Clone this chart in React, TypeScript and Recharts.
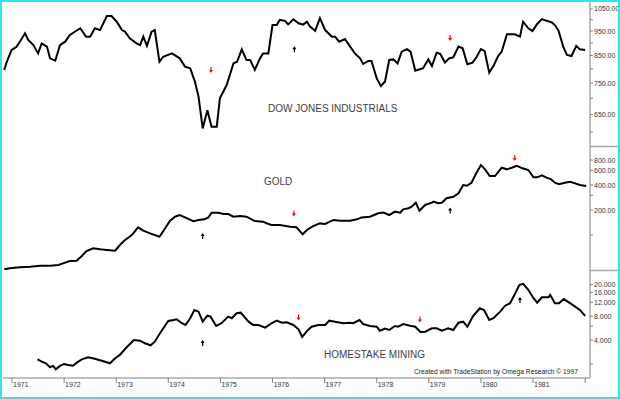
import React from 'react';
import { LineChart, Line, XAxis, YAxis, ReferenceDot } from 'recharts';

// decimal years + values (log panels)
const dowYears = [
  1970.85, 1970.9, 1970.99, 1971.09, 1971.15, 1971.25, 1971.31, 1971.41, 1971.5, 1971.57, 1971.67, 1971.73,
  1971.83, 1971.92, 1972.02, 1972.11, 1972.31, 1972.42, 1972.5, 1972.59, 1972.69, 1972.82, 1972.91, 1973.01,
  1973.11, 1973.17, 1973.26, 1973.39, 1973.46, 1973.52, 1973.59, 1973.68, 1973.74, 1973.83, 1973.9, 1974.07,
  1974.22, 1974.32, 1974.42, 1974.51, 1974.58, 1974.66, 1974.75, 1974.83, 1974.93, 1974.99, 1975.12, 1975.25,
  1975.32, 1975.41, 1975.5, 1975.57, 1975.66, 1975.76, 1975.82, 1975.92, 1976.0, 1976.08, 1976.14, 1976.24,
  1976.3, 1976.4, 1976.5, 1976.59, 1976.66, 1976.72, 1976.82, 1976.91, 1977.01, 1977.14, 1977.2, 1977.28,
  1977.39, 1977.49, 1977.58, 1977.68, 1977.74, 1977.84, 1977.9, 1978.0, 1978.08, 1978.16, 1978.24, 1978.32,
  1978.4, 1978.48, 1978.58, 1978.65, 1978.74, 1978.89, 1978.99, 1979.06, 1979.15, 1979.22, 1979.31, 1979.39,
  1979.47, 1979.57, 1979.65, 1979.74, 1979.84, 1979.92, 1980.0, 1980.07, 1980.16, 1980.25, 1980.33, 1980.4,
  1980.5, 1980.65, 1980.75, 1980.81, 1980.91, 1980.99, 1981.08, 1981.17, 1981.26, 1981.36, 1981.42, 1981.49,
  1981.58, 1981.65, 1981.74, 1981.83, 1981.9, 1982.0,
];
const dowValues = [
  796, 826, 871, 885, 905, 940, 912, 891, 858, 898, 885, 839,
  830, 891, 905, 933, 962, 926, 926, 962, 954, 1017, 1017, 991,
  954, 947, 919, 898, 891, 926, 888, 947, 954, 826, 845, 858,
  839, 808, 802, 755, 705, 610, 663, 615, 615, 700, 743, 820,
  826, 874, 833, 833, 796, 839, 858, 858, 976, 976, 999, 995,
  979, 1002, 984, 978, 991, 969, 951, 1007, 954, 926, 926, 905,
  916, 885, 858, 839, 818, 829, 829, 766, 740, 755, 833, 835,
  820, 865, 875, 865, 793, 802, 835, 810, 861, 856, 823, 839,
  843, 885, 878, 817, 823, 845, 875, 868, 786, 814, 848, 865,
  936, 936, 926, 991, 962, 950, 981, 1003, 995, 988, 976, 951,
  885, 852, 848, 888, 874, 871,
];

const goldYears = [
  1970.85, 1970.96, 1971.15, 1971.35, 1971.54, 1971.73, 1971.89, 1971.98, 1972.11, 1972.24, 1972.34, 1972.43,
  1972.56, 1972.69, 1972.82, 1972.98, 1973.07, 1973.17, 1973.3, 1973.42, 1973.52, 1973.65, 1973.83, 1973.94,
  1974.03, 1974.13, 1974.22, 1974.32, 1974.48, 1974.58, 1974.69, 1974.77, 1974.83, 1974.96, 1975.06, 1975.15,
  1975.25, 1975.38, 1975.5, 1975.66, 1975.82, 1975.89, 1975.98, 1976.14, 1976.34, 1976.46, 1976.58, 1976.66,
  1976.78, 1976.91, 1977.01, 1977.17, 1977.3, 1977.49, 1977.62, 1977.71, 1977.87, 1978.03, 1978.13, 1978.24,
  1978.35, 1978.45, 1978.51, 1978.61, 1978.67, 1978.75, 1978.82, 1978.93, 1979.06, 1979.09, 1979.18, 1979.25,
  1979.34, 1979.47, 1979.57, 1979.66, 1979.73, 1979.82, 1979.91, 1980.0, 1980.08, 1980.17, 1980.27, 1980.4,
  1980.5, 1980.59, 1980.69, 1980.8, 1980.91, 1981.01, 1981.08, 1981.17, 1981.26, 1981.34, 1981.42, 1981.5,
  1981.61, 1981.71, 1981.81, 1981.9, 1982.02,
];
const goldValues = [
  38.6, 39.8, 40.8, 41.5, 42.7, 42.7, 43.5, 45.6, 48.6, 49, 55.9, 64.2,
  69.2, 67.3, 66, 64.7, 75.8, 87.1, 100, 123.8, 112.7, 104.8, 95.4, 120.4,
  147.4, 166, 174, 163, 147, 151.6, 154.5, 163, 185.6, 185.6, 179, 179,
  166, 169, 166, 147, 144.6, 138, 132, 132, 126, 124, 102, 115,
  128, 138, 136, 152, 149, 149, 154.5, 163, 166, 183, 186, 174,
  191, 186, 204, 210, 219, 245, 196, 230, 245, 252, 241, 245,
  277, 289, 318, 400, 392, 426, 553, 696, 618, 513, 513, 646,
  618, 646, 683, 636, 606, 495, 495, 524, 490, 472, 426, 408,
  426, 438, 419, 400, 389,
];

const hmYears = [
  1971.49, 1971.57, 1971.65, 1971.73, 1971.79, 1971.84, 1971.92, 1972.0, 1972.08, 1972.17, 1972.25, 1972.34,
  1972.46, 1972.59, 1972.72, 1972.88, 1972.98, 1973.07, 1973.2, 1973.34, 1973.46, 1973.55, 1973.66, 1973.74,
  1973.84, 1974.0, 1974.1, 1974.16, 1974.26, 1974.33, 1974.42, 1974.5, 1974.58, 1974.66, 1974.75, 1974.81,
  1974.92, 1975.02, 1975.15, 1975.22, 1975.31, 1975.39, 1975.54, 1975.63, 1975.73, 1975.86, 1975.98, 1976.08,
  1976.18, 1976.27, 1976.4, 1976.5, 1976.57, 1976.66, 1976.75, 1976.88, 1977.01, 1977.09, 1977.2, 1977.36,
  1977.49, 1977.55, 1977.67, 1977.74, 1977.87, 1978.0, 1978.06, 1978.16, 1978.24, 1978.35, 1978.41, 1978.51,
  1978.64, 1978.74, 1978.84, 1978.93, 1979.06, 1979.15, 1979.25, 1979.37, 1979.47, 1979.57, 1979.66, 1979.74,
  1979.85, 1979.98, 1980.06, 1980.16, 1980.24, 1980.37, 1980.46, 1980.56, 1980.65, 1980.74, 1980.81, 1980.91,
  1981.01, 1981.08, 1981.17, 1981.3, 1981.33, 1981.42, 1981.5, 1981.59, 1981.71, 1981.81, 1981.9, 1982.0,
];
const hmValues = [
  2.29, 2.14, 2.04, 1.82, 1.89, 1.71, 1.89, 2.0, 1.94, 1.9, 2.1, 2.29,
  2.43, 2.33, 2.2, 2.04, 2.36, 2.6, 3.25, 4.02, 3.94, 3.65, 3.44, 3.82,
  4.88, 6.98, 7.18, 7.33, 6.53, 6.21, 7.55, 9.61, 9.14, 6.84, 8.14, 7.91,
  6.03, 6.53, 7.91, 7.55, 8.73, 8.88, 6.84, 6.21, 6.21, 5.74, 6.53, 7.04,
  6.64, 6.72, 6.21, 5.48, 4.38, 5.2, 5.91, 6.21, 6.21, 7.04, 6.84, 6.53,
  6.64, 6.53, 7.18, 6.39, 6.03, 5.91, 5.26, 5.58, 5.37, 6.03, 5.91, 6.39,
  6.09, 5.91, 5.07, 5.11, 5.64, 5.64, 5.26, 5.64, 5.37, 6.64, 6.84, 5.91,
  8.07, 10.1, 9.61, 7.18, 7.55, 9.14, 10.8, 11.7, 15.2, 19.9, 20.5, 17.2,
  13.5, 11.9, 13.9, 13.9, 14.9, 11.7, 11.7, 13.2, 11.7, 10.6, 9.61, 8.07,
];

const dowTicks = [600, 650, 700, 750, 800, 850, 900, 950, 1000, 1050];
const dowLabels = [650, 750, 850, 950, 1050];
const goldTicks = [100, 200, 300, 400, 600, 800];
const goldLabels = [200, 400, 600, 800];
const hmTicks = [2, 4, 6, 8, 12, 16, 20];
const hmLabels = [4, 8, 12, 16, 20];
const yearTicks = [1971, 1972, 1973, 1974, 1975, 1976, 1977, 1978, 1979, 1980, 1981, 1982];
const yearLabels = ['1971', '1972', '1973', '1974', '1975', '1976', '1977', '1978', '1979', '1980', '1981'];

// signal arrows: year, value, direction
const dowArrows: [number, number, 'up' | 'down'][] = [
  [1974.82, 796, 'down'],
  [1976.42, 874, 'up'],
  [1979.41, 920, 'down'],
];
const goldArrows: [number, number, 'up' | 'down'][] = [
  [1974.66, 97, 'up'],
  [1976.41, 182, 'down'],
  [1979.41, 197, 'up'],
  [1980.65, 845, 'down'],
];
const hmArrows: [number, number, 'up' | 'down'][] = [
  [1974.66, 3.68, 'up'],
  [1976.5, 7.73, 'down'],
  [1978.83, 7.29, 'down'],
  [1980.75, 12.8, 'up'],
];

const FONT = '"Liberation Sans", Arial, sans-serif';
const X_DOMAIN: [number, number] = [1970.827, 1982.094];

const zip = (ts: number[], vs: number[]) => ts.map((t, i) => ({ t, v: vs[i] }));

const Arrow = ({ cx, cy, dir }: { cx: number; cy: number; dir: 'up' | 'down' }) => {
  const color = dir === 'down' ? '#ff0000' : '#000000';
  const s = dir === 'down' ? 1 : -1;
  return (
    <g>
      <line x1={cx} y1={cy - 3 * s} x2={cx} y2={cy + 1 * s} stroke={color} strokeWidth={1.2} />
      <path d={`M${cx - 2},${cy} L${cx + 2},${cy} L${cx},${cy + 3 * s} Z`} fill={color} />
    </g>
  );
};

const makeYTick = (labels: number[], digits: number) => (props: any) => {
  const { x, y, payload } = props;
  if (!labels.includes(payload.value)) return <g />;
  return (
    <text x={x} y={y} dy={2.5} fontSize={7} fill="#333" fontFamily={FONT}>
      {payload.value.toFixed(digits)}
    </text>
  );
};

const renderXTick = (props: any) => {
  const { x, y, payload } = props;
  const label = yearLabels[yearTicks.indexOf(payload.value)];
  if (!label) return <g />;
  return (
    <text x={x + 1} y={y + 4} fontSize={7} fill="#333" fontFamily={FONT}>
      {label}
    </text>
  );
};

type PanelProps = {
  top: number;
  height: number;
  data: { t: number; v: number }[];
  domain: [number, number];
  ticks: number[];
  labels: number[];
  digits: number;
  arrows: [number, number, 'up' | 'down'][];
  showX?: boolean;
};

const Panel = ({ top, height, data, domain, ticks, labels, digits, arrows, showX }: PanelProps) => (
  <div style={{ position: 'absolute', left: 0, top }}>
    <LineChart width={620} height={height} data={data} margin={{ top: 0, right: 0, bottom: 0, left: 3 }}>
      <XAxis
        dataKey="t"
        type="number"
        domain={X_DOMAIN}
        allowDataOverflow
        ticks={yearTicks}
        interval={0}
        hide={!showX}
        height={21}
        stroke="#808080"
        tickSize={5}
        tickMargin={0}
        tick={renderXTick}
      />
      <YAxis
        orientation="right"
        width={30}
        scale="log"
        domain={domain}
        allowDataOverflow
        ticks={ticks}
        interval={0}
        stroke="#808080"
        tickSize={3}
        tickMargin={1}
        tick={makeYTick(labels, digits)}
      />
      <Line
        type="linear"
        dataKey="v"
        stroke="#000"
        strokeWidth={2}
        dot={false}
        isAnimationActive={false}
      />
      {arrows.map(([t, v, dir], i) => (
        <ReferenceDot
          key={i}
          x={t}
          y={v}
          ifOverflow="visible"
          shape={(p: any) => <Arrow cx={p.cx} cy={p.cy} dir={dir} />}
        />
      ))}
    </LineChart>
  </div>
);

export default function App() {
  return (
    <div style={{ position: 'absolute', left: 0, top: 0, width: 620, height: 399, background: '#fff', overflow: 'hidden' }}>
      <Panel
        top={0}
        height={146}
        data={zip(dowYears, dowValues)}
        domain={[563.3, 1093.8]}
        ticks={dowTicks}
        labels={dowLabels}
        digits={2}
        arrows={dowArrows}
      />
      <Panel
        top={146}
        height={124}
        data={zip(goldYears, goldValues)}
        domain={[37.9, 1180]}
        ticks={goldTicks}
        labels={goldLabels}
        digits={2}
        arrows={goldArrows}
      />
      <Panel
        top={270}
        height={129}
        data={zip(hmYears, hmValues)}
        domain={[1.33, 30.7]}
        ticks={hmTicks}
        labels={hmLabels}
        digits={3}
        arrows={hmArrows}
        showX
      />
      <svg width={620} height={399} style={{ position: 'absolute', left: 0, top: 0, pointerEvents: 'none' }}>
        <line x1={590} x2={618} y1={146.5} y2={146.5} stroke="#a8a8a8" strokeWidth={1.5} />
        <line x1={590} x2={618} y1={270.5} y2={270.5} stroke="#a8a8a8" strokeWidth={1.5} />
        <text x={268} y={112} fontSize={10} fill="#404040" fontFamily={FONT}>DOW JONES INDUSTRIALS</text>
        <text x={264} y={185} fontSize={10} fill="#404040" fontFamily={FONT}>GOLD</text>
        <text x={324} y={358} fontSize={10} fill="#404040" fontFamily={FONT}>HOMESTAKE MINING</text>
        <text x={578} y={373.5} fontSize={6.7} fill="#222" fontFamily={FONT} textAnchor="end">
          Created with TradeStation by Omega Research © 1997
        </text>
      </svg>
      <div
        style={{
          position: 'absolute',
          left: 0,
          top: 0,
          width: 620,
          height: 399,
          boxSizing: 'border-box',
          border: '2px solid #2ee6f2',
          pointerEvents: 'none',
        }}
      />
    </div>
  );
}
